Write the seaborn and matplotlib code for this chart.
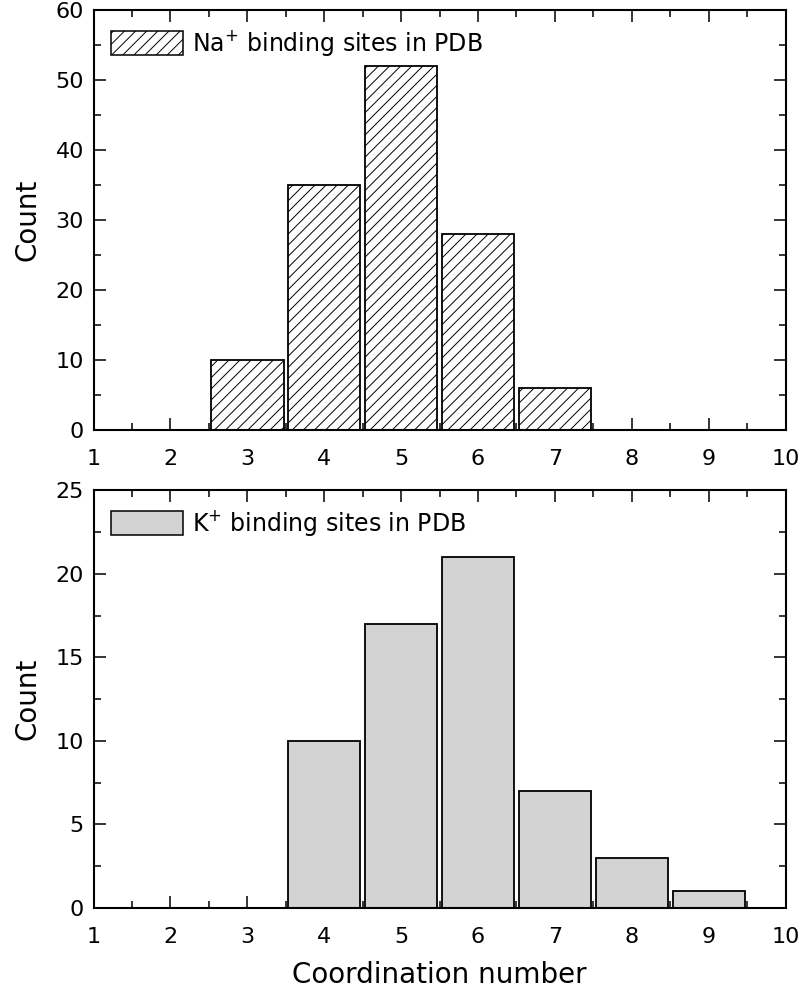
import matplotlib
matplotlib.use("Agg")
import matplotlib.pyplot as plt
import seaborn as sns
import pandas as pd
from matplotlib.patches import Patch
from matplotlib.ticker import MultipleLocator

na_coord = [3, 4, 5, 6, 7]
na_count = [10, 35, 52, 28, 6]
k_coord = [4, 5, 6, 7, 8, 9]
k_count = [10, 17, 21, 7, 3, 1]
xticks = [1, 2, 3, 4, 5, 6, 7, 8, 9, 10]

sns.set_style("ticks", {"axes.edgecolor": "black", "xtick.color": "black",
                        "ytick.color": "black", "text.color": "black",
                        "axes.labelcolor": "black"})
plt.rcParams['font.family'] = ['DejaVu Sans']
plt.rcParams['mathtext.fontset'] = 'dejavusans'
plt.rcParams['hatch.linewidth'] = 0.7

fig = plt.figure(figsize=(8, 9.92), dpi=100)
ax1 = fig.add_axes([0.117, 0.5665, 0.865, 0.4234])
ax2 = fig.add_axes([0.117, 0.0847, 0.865, 0.421])

df1 = pd.DataFrame({"x": na_coord, "y": na_count})
df2 = pd.DataFrame({"x": k_coord, "y": k_count})

sns.barplot(data=df1, x="x", y="y", native_scale=True, width=0.94,
            color="white", edgecolor="black", linewidth=1.3, ax=ax1)
for p in ax1.patches:
    p.set_hatch("///")
    p.set_facecolor("white")
sns.barplot(data=df2, x="x", y="y", native_scale=True, width=0.94,
            color="#d3d3d3", edgecolor="black", linewidth=1.3, saturation=1, ax=ax2)
for p in ax2.patches:
    p.set_facecolor("#d3d3d3")

for ax, ymax, ystep in [(ax1, 60, 10), (ax2, 25, 5)]:
    ax.set_xlim(1, 10)
    ax.set_ylim(0, ymax)
    ax.set_xticks(xticks)
    ax.set_xticklabels([str(v) for v in xticks])
    ax.xaxis.set_minor_locator(MultipleLocator(0.5))
    ax.yaxis.set_major_locator(MultipleLocator(ystep))
    ax.yaxis.set_minor_locator(MultipleLocator(ystep / 2))
    ax.tick_params(which="both", direction="in", top=True, right=True, width=1.1,
                   labelsize=16, colors="black")
    ax.tick_params(which="major", length=8.5)
    ax.tick_params(which="minor", length=5)
    ax.tick_params(axis="x", which="major", pad=14)
    ax.tick_params(axis="y", which="major", pad=7)
    for s in ax.spines.values():
        s.set_linewidth(1.5)
        s.set_color("black")
    ax.set_ylabel("Count", fontsize=20, labelpad=10, color="black")
    ax.set_xlabel("")

ax2.set_xlabel("Coordination number", fontsize=20, labelpad=10, color="black")

leg_kw = dict(loc="upper left", frameon=False, fontsize=17, handlelength=3.05,
              handleheight=1.2, handletextpad=0.35, borderaxespad=0.45, borderpad=0.3,
              labelcolor="black")
h1 = Patch(facecolor="white", edgecolor="black", hatch="///", linewidth=1.1)
ax1.legend([h1], [r"Na$^{+}$ binding sites in PDB"], **leg_kw)
h2 = Patch(facecolor="#d3d3d3", edgecolor="black", linewidth=1.1)
ax2.legend([h2], [r"K$^{+}$ binding sites in PDB"], **leg_kw)

fig.savefig("out.png", dpi=100)
